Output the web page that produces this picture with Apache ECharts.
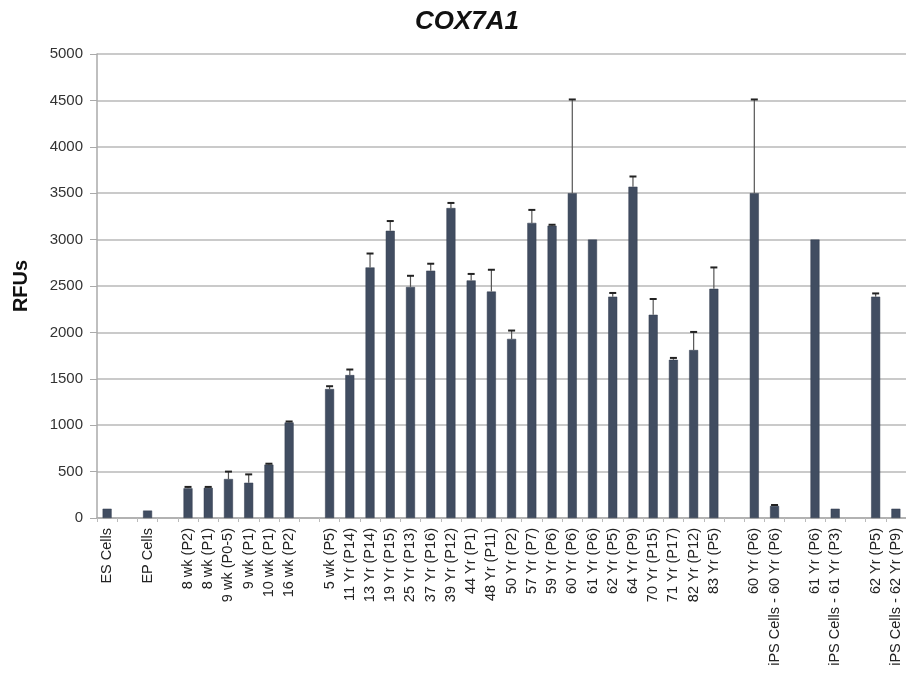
<!DOCTYPE html>
<html>
<head>
<meta charset="utf-8">
<script src="https://cdn.jsdelivr.net/npm/echarts@6/dist/echarts.min.js"></script>
<style>html,body{margin:0;padding:0;background:#fff;}#c{width:906px;height:686px;}</style>
</head>
<body>
<div id="c"></div>
<script>
const categories = ['ES Cells','','EP Cells','','8 wk (P2)','8 wk (P1)','9 wk (P0-5)','9 wk (P1)','10 wk (P1)','16 wk (P2)','',
 '5 wk (P5)','11 Yr (P14)','13 Yr (P14)','19 Yr (P15)','25 Yr (P13)','37 Yr (P16)','39 Yr (P12)','44 Yr (P1)','48 Yr (P11)','50 Yr (P2)',
 '57 Yr (P7)','59 Yr (P6)','60 Yr (P6)','61 Yr (P6)','62 Yr (P5)','64 Yr (P9)','70 Yr (P15)','71 Yr (P17)','82 Yr (P12)','83 Yr (P5)','',
 '60 Yr (P6)','iPS Cells - 60 Yr (P6)','','61 Yr (P6)','iPS Cells - 61 Yr (P3)','','62 Yr (P5)','iPS Cells - 62 Yr (P9)'];
const values = [100,null,80,null,320,325,420,380,575,1030,null,
 1390,1540,2700,3095,2490,2665,3340,2560,2440,1930,
 3180,3150,3500,3000,2385,3570,2190,1705,1810,2470,null,
 3500,130,null,3000,100,null,2385,100];
const errors = [0,null,0,null,15,10,80,90,10,10,null,
 30,60,150,105,120,75,55,70,235,90,
 140,10,1010,0,40,110,170,20,195,230,null,
 1010,10,null,0,0,null,35,0];
const yTicks = [0,500,1000,1500,2000,2500,3000,3500,4000,4500,5000];

const errData = [];
values.forEach((v,i)=>{ if(v!=null && errors[i]) errData.push([i, v, v+errors[i]]); });

const FONT = 'Liberation Sans, Arial, Helvetica, sans-serif';
const chart = echarts.init(document.getElementById('c'));
chart.setOption({
  animation:false,
  backgroundColor:'#fff',
  title:{text:'COX7A1', left:462, top:4, textAlign:'center',
    textStyle:{fontFamily:FONT, fontSize:26, fontWeight:'bold', fontStyle:'italic', color:'#111'}},
  grid:{left:97, right:0, top:54, bottom:168, containLabel:false},
  xAxis:{type:'category', data:categories,
    axisLine:{lineStyle:{color:'#aaa', width:1.5}},
    axisTick:{show:true, alignWithLabel:false, length:4, lineStyle:{color:'#bbb'}},
    axisLabel:{interval:0, rotate:90, color:'#222', fontSize:14.5, fontFamily:FONT, margin:10}},
  yAxis:{type:'value', min:yTicks[0], max:yTicks[yTicks.length-1], interval:500,
    name:'RFUs', nameLocation:'middle', nameGap:66, nameRotate:90,
    nameTextStyle:{fontFamily:FONT, fontSize:20, fontWeight:'bold', color:'#111'},
    axisLine:{show:true, lineStyle:{color:'#aaa', width:1.5}},
    axisTick:{show:true, length:7, lineStyle:{color:'#aaa'}},
    axisLabel:{color:'#333', fontSize:15, fontFamily:FONT, margin:14, formatter:function(v){return String(v);}},
    splitLine:{lineStyle:{color:'#b8b8b8', width:1.5}}},
  series:[
    {type:'bar', data:values, barWidth:9,
      itemStyle:{color:'#414d61', borderColor:'#333d4e', borderWidth:0.5}},
    {type:'custom', data:errData, z:5,
      renderItem:function(params, api){
        const x = api.value(0);
        const p0 = api.coord([x, api.value(1)]);
        const p1 = api.coord([x, api.value(2)]);
        return {type:'group', children:[
          {type:'line', shape:{x1:p0[0], y1:p0[1], x2:p1[0], y2:p1[1]}, style:{stroke:'#555', lineWidth:1.2}},
          {type:'line', shape:{x1:p1[0]-3.5, y1:p1[1], x2:p1[0]+3.5, y2:p1[1]}, style:{stroke:'#222', lineWidth:2}}
        ]};
      }}
  ]
});
</script>
</body>
</html>
